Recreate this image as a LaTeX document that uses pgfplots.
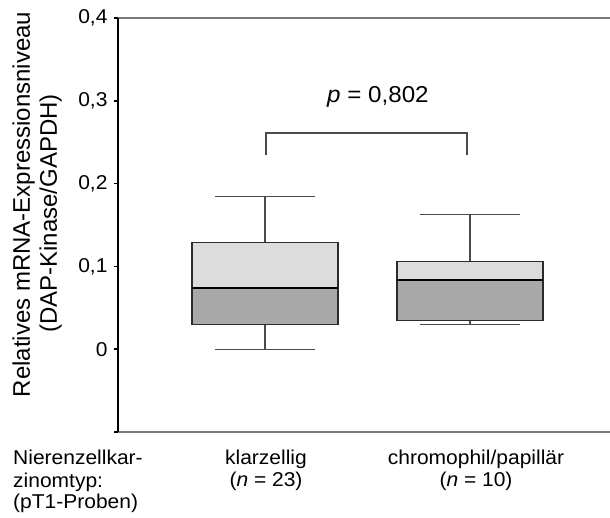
\documentclass[border=0pt]{standalone}
\usepackage{fontspec}
\setmainfont{Liberation Sans}[FakeStretch=1.05]
\newfontfamily\ylabfont{Liberation Sans}
\usepackage{pgfplots}
\pgfplotsset{compat=1.18}
\definecolor{boxlight}{HTML}{DCDCDC}
\definecolor{boxdark}{HTML}{A9A9A9}
\definecolor{outl}{HTML}{2B2B2B}
\definecolor{whisk}{HTML}{4A4A4A}
\definecolor{framec}{HTML}{7A7A7A}
\begin{document}
\begin{tikzpicture}[font=\fontsize{20}{24}\selectfont]
\begin{axis}[at={(0pt,0pt)}, anchor=south west, scale only axis,
  width=492pt, height=414pt,
  xmin=0.283, xmax=2.683, ymin=-0.1, ymax=0.4,
  axis y line=left, axis x line=box,
  xtick=\empty,
  ytick={-0.1,0,0.1,0.2,0.3,0.4},
  yticklabels={{},0,{0,1},{0,2},{0,3},{0,4}},
  tick align=outside, major tick length=4pt,
  tick style={black, line width=1.5pt},
  y axis line style={-, black, line width=1.5pt},
  x axis line style={-, framec, line width=1.2pt},
  tick label style={font=\fontsize{20}{24}\selectfont},
  yticklabel style={xshift=-3pt},
  clip=false,
]
% whiskers group 1
\addplot[whisk, line width=1.2pt] coordinates {(1,0.129) (1,0.184)};
\addplot[whisk, line width=1.2pt] coordinates {(0.756,0.184) (1.244,0.184)};
\addplot[whisk, line width=1.2pt] coordinates {(1,0.030) (1,0)};
\addplot[whisk, line width=1.2pt] coordinates {(0.756,0) (1.244,0)};
% whiskers group 2
\addplot[whisk, line width=1.2pt] coordinates {(2,0.106) (2,0.163)};
\addplot[whisk, line width=1.2pt] coordinates {(1.756,0.163) (2.244,0.163)};
\addplot[whisk, line width=1.2pt] coordinates {(2,0.035) (2,0.030)};
\addplot[whisk, line width=1.2pt] coordinates {(1.756,0.030) (2.244,0.030)};
% box 1
\addplot[fill=boxlight, draw=none] coordinates {(0.644,0.0735) (1.356,0.0735) (1.356,0.129) (0.644,0.129)} -- cycle;
\addplot[fill=boxdark, draw=none] coordinates {(0.644,0.030) (1.356,0.030) (1.356,0.0735) (0.644,0.0735)} -- cycle;
\addplot[draw=outl, line width=1.3pt] coordinates {(0.644,0.030) (1.356,0.030) (1.356,0.129) (0.644,0.129)} -- cycle;
\addplot[black, line width=2.2pt] coordinates {(0.644,0.0735) (1.356,0.0735)};
% box 2
\addplot[fill=boxlight, draw=none] coordinates {(1.644,0.084) (2.356,0.084) (2.356,0.106) (1.644,0.106)} -- cycle;
\addplot[fill=boxdark, draw=none] coordinates {(1.644,0.035) (2.356,0.035) (2.356,0.084) (1.644,0.084)} -- cycle;
\addplot[draw=outl, line width=1.3pt] coordinates {(1.644,0.035) (2.356,0.035) (2.356,0.106) (1.644,0.106)} -- cycle;
\addplot[black, line width=2.2pt] coordinates {(1.644,0.084) (2.356,0.084)};
% bracket
\addplot[whisk, line width=1.2pt] coordinates {(1.005,0.234) (1.005,0.261) (1.985,0.261) (1.985,0.234)};
\node[anchor=base, font=\fontsize{23}{27}\selectfont] at (axis cs:1.551,0.2976) {\textit{p} = 0,802};
\end{axis}
\node[rotate=90, anchor=base, font=\ylabfont\fontsize{24}{28}\selectfont] at (-88pt,227.5pt) {Relatives mRNA-Expressionsniveau};
\node[rotate=90, anchor=base, font=\ylabfont\fontsize{24}{28}\selectfont] at (-61pt,218.5pt) {(DAP-Kinase/GAPDH)};
\node[anchor=base west, inner sep=0pt] at (-105pt,-32pt) {Nierenzellkar-};
\node[anchor=base west, inner sep=0pt] at (-105pt,-55pt) {zinomtyp:};
\node[anchor=base west, inner sep=0pt] at (-105pt,-76pt) {(pT1-Proben)};
\node[anchor=base, inner sep=0pt] at (148pt,-32pt) {klarzellig};
\node[anchor=base, inner sep=0pt] at (148pt,-54pt) {(\textit{n} = 23)};
\node[anchor=base, inner sep=0pt] at (358pt,-32pt) {chromophil/papillär};
\node[anchor=base, inner sep=0pt] at (358pt,-54pt) {(\textit{n} = 10)};
\pgfresetboundingbox
\path[use as bounding box] (-118pt,-85pt) rectangle (492pt,432pt);
\end{tikzpicture}
\end{document}
